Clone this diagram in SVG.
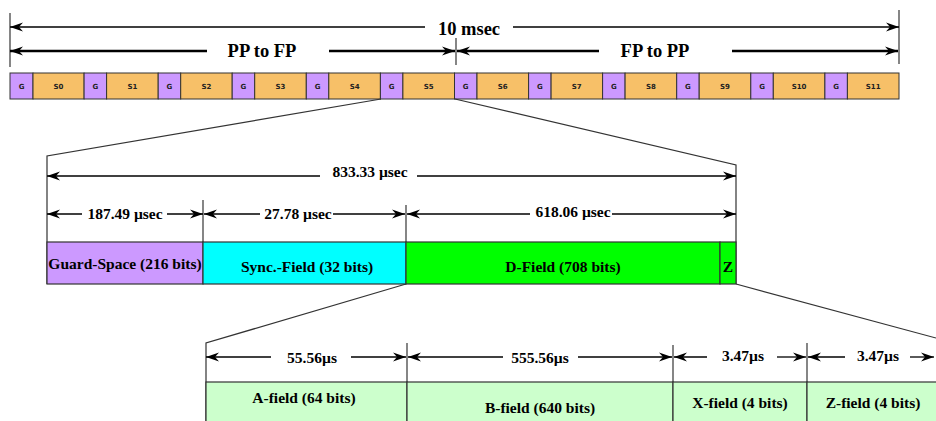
<svg xmlns="http://www.w3.org/2000/svg" width="936" height="421" viewBox="0 0 936 421">
<defs>
<marker id="ah" markerUnits="userSpaceOnUse" markerWidth="14" markerHeight="10" refX="13" refY="5" orient="auto" viewBox="0 0 14 10">
<path d="M0,0.5 L13,5 L0,9.5 L4,5 Z" fill="#000"/>
</marker>
<style>
.g{fill:#cc99ff;stroke:#333;stroke-width:1}
.s{fill:#f7c068;stroke:#333;stroke-width:1}
.sl{font-family:"DejaVu Sans",sans-serif;font-weight:bold;font-size:7px;fill:#222;text-anchor:middle}
.t1{font-family:"Liberation Serif",serif;font-weight:bold;font-size:18.5px;fill:#000;text-anchor:middle}
.t2{font-family:"Liberation Serif",serif;font-weight:bold;font-size:15.5px;fill:#000;text-anchor:middle}
.t3{font-family:"Liberation Serif",serif;font-weight:bold;font-size:15.5px;fill:#000;text-anchor:middle}
.a{stroke:#000;stroke-width:1.3;fill:none;marker-end:url(#ah)}
.ab{stroke:#000;stroke-width:2.4;fill:none;marker-end:url(#ah)}
.tk{stroke:#444;stroke-width:1.3;fill:none}
.fan{stroke:#333;stroke-width:1.2;fill:none}
.box{stroke:#333;stroke-width:1.2}
</style>
</defs>

<g id="top-dimensions">
<line class="tk" x1="10" y1="13" x2="10" y2="67"/>
<line class="tk" x1="899" y1="10" x2="899" y2="64"/>
<line class="tk" x1="456" y1="38" x2="456" y2="65"/>
<line class="a" x1="425" y1="27" x2="10" y2="27"/>
<line class="a" x1="513" y1="27" x2="899" y2="27"/>
<text class="t1" x="469" y="35">10 msec</text>
<line class="ab" x1="207" y1="51" x2="10" y2="51"/>
<line class="ab" x1="329" y1="51" x2="455" y2="51"/>
<text class="t1" x="262" y="57">PP to FP</text>
<line class="ab" x1="599" y1="51" x2="457" y2="51"/>
<line class="ab" x1="732" y1="51" x2="898" y2="51"/>
<text class="t1" x="655" y="57">FP to PP</text>
</g>

<g id="frame">
<rect class="g" x="10" y="73" width="23" height="26"/><text class="sl" x="21.5" y="89">G</text>
<rect class="s" x="33" y="73" width="51.1" height="26"/><text class="sl" x="58.5" y="89">S0</text>
<rect class="g" x="84.1" y="73" width="22.5" height="26"/><text class="sl" x="95.3" y="89">G</text>
<rect class="s" x="106.6" y="73" width="51.6" height="26"/><text class="sl" x="132.4" y="89">S1</text>
<rect class="g" x="158.2" y="73" width="22.5" height="26"/><text class="sl" x="169.4" y="89">G</text>
<rect class="s" x="180.7" y="73" width="51.5" height="26"/><text class="sl" x="206.4" y="89">S2</text>
<rect class="g" x="232.2" y="73" width="22.5" height="26"/><text class="sl" x="243.4" y="89">G</text>
<rect class="s" x="254.7" y="73" width="51.6" height="26"/><text class="sl" x="280.5" y="89">S3</text>
<rect class="g" x="306.3" y="73" width="22.5" height="26"/><text class="sl" x="317.5" y="89">G</text>
<rect class="s" x="328.8" y="73" width="51.6" height="26"/><text class="sl" x="354.6" y="89">S4</text>
<rect class="g" x="380.4" y="73" width="22.5" height="26"/><text class="sl" x="391.6" y="89">G</text>
<rect class="s" x="402.9" y="73" width="51.6" height="26"/><text class="sl" x="428.7" y="89">S5</text>
<rect class="g" x="454.5" y="73" width="22.5" height="26"/><text class="sl" x="465.7" y="89">G</text>
<rect class="s" x="477" y="73" width="51.6" height="26"/><text class="sl" x="502.8" y="89">S6</text>
<rect class="g" x="528.6" y="73" width="22.5" height="26"/><text class="sl" x="539.8" y="89">G</text>
<rect class="s" x="551.1" y="73" width="51.5" height="26"/><text class="sl" x="576.8" y="89">S7</text>
<rect class="g" x="602.6" y="73" width="22.5" height="26"/><text class="sl" x="613.8" y="89">G</text>
<rect class="s" x="625.1" y="73" width="51.6" height="26"/><text class="sl" x="650.9" y="89">S8</text>
<rect class="g" x="676.7" y="73" width="22.5" height="26"/><text class="sl" x="687.9" y="89">G</text>
<rect class="s" x="699.2" y="73" width="51.6" height="26"/><text class="sl" x="725" y="89">S9</text>
<rect class="g" x="750.8" y="73" width="22.5" height="26"/><text class="sl" x="762" y="89">G</text>
<rect class="s" x="773.3" y="73" width="51.6" height="26"/><text class="sl" x="799.1" y="89">S10</text>
<rect class="g" x="824.9" y="73" width="22.5" height="26"/><text class="sl" x="836.1" y="89">G</text>
<rect class="s" x="847.4" y="73" width="51.6" height="26"/><text class="sl" x="873.2" y="89">S11</text>
</g>

<g id="connectors">
<polyline class="fan" points="381,99 47,156 47,284"/>
<polyline class="fan" points="455,99 736,165 736,284"/>
<polyline class="fan" points="406,284 206,343 206,421"/>
<line class="fan" x1="736" y1="284" x2="936" y2="338"/>
</g>

<g id="slot-dimensions">
<line class="tk" x1="203" y1="200" x2="203" y2="242"/>
<line class="tk" x1="406" y1="205" x2="406" y2="242"/>
<line class="a" x1="320" y1="176" x2="47" y2="176"/>
<line class="a" x1="417" y1="176" x2="736" y2="176"/>
<text class="t2" x="370" y="177">833.33 µsec</text>
<line class="a" x1="82" y1="214" x2="47" y2="214"/>
<line class="a" x1="167" y1="214" x2="203" y2="214"/>
<text class="t2" x="125" y="219">187.49 µsec</text>
<line class="a" x1="260" y1="214" x2="204" y2="214"/>
<line class="a" x1="333" y1="214" x2="405" y2="214"/>
<text class="t2" x="298" y="219">27.78 µsec</text>
<line class="a" x1="530" y1="214" x2="407" y2="214"/>
<line class="a" x1="612" y1="214" x2="736" y2="214"/>
<text class="t2" x="573" y="217">618.06 µsec</text>
</g>

<g id="slot">
<rect class="box" x="47" y="242" width="156" height="42" fill="#cc99ff"/>
<text class="t2" x="125" y="269">Guard-Space (216 bits)</text>
<rect class="box" x="203" y="242" width="203" height="42" fill="#00ffff"/>
<text class="t2" x="307" y="272">Sync.-Field (32 bits)</text>
<rect class="box" x="406" y="242" width="314" height="42" fill="#00ff00"/>
<text class="t2" x="563" y="272">D-Field (708 bits)</text>
<rect class="box" x="720" y="242" width="16" height="42" fill="#00ff00"/>
<text class="t2" x="728" y="272">Z</text>
</g>

<g id="dfield-dimensions">
<line class="tk" x1="407" y1="343" x2="407" y2="382"/>
<line class="tk" x1="673" y1="345" x2="673" y2="382"/>
<line class="tk" x1="807" y1="343" x2="807" y2="382"/>
<line class="a" x1="271" y1="357" x2="206" y2="357"/>
<line class="a" x1="351" y1="357" x2="406" y2="357"/>
<text class="t3" x="312" y="363">55.56µs</text>
<line class="a" x1="503" y1="357" x2="408" y2="357"/>
<line class="a" x1="578" y1="357" x2="672" y2="357"/>
<text class="t3" x="540" y="363">555.56µs</text>
<line class="a" x1="707" y1="357" x2="674" y2="357"/>
<line class="a" x1="777" y1="357" x2="806" y2="357"/>
<text class="t3" x="743" y="361">3.47µs</text>
<line class="a" x1="845" y1="357" x2="808" y2="357"/>
<line class="a" x1="910" y1="357" x2="934" y2="357"/>
<text class="t3" x="878" y="361">3.47µs</text>
</g>

<g id="dfield">
<rect class="box" x="206" y="382" width="201" height="45" fill="#ccffcc"/>
<text class="t3" x="304" y="403">A-field (64 bits)</text>
<rect class="box" x="407" y="382" width="266" height="45" fill="#ccffcc"/>
<text class="t3" x="540" y="413">B-field (640 bits)</text>
<rect class="box" x="673" y="382" width="134" height="45" fill="#ccffcc"/>
<text class="t3" x="740" y="408">X-field (4 bits)</text>
<rect class="box" x="807" y="382" width="135" height="45" fill="#ccffcc"/>
<text class="t3" x="873" y="408">Z-field (4 bits)</text>
</g>
</svg>
